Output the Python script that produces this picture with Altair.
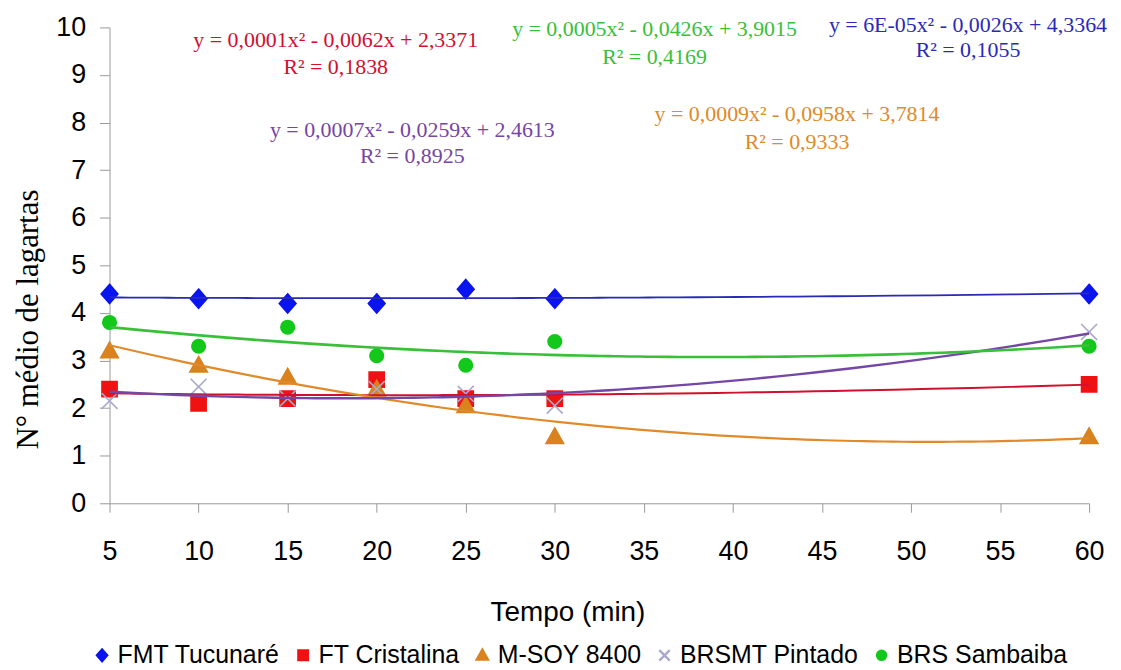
import altair as alt
import pandas as pd

# ---- data ----
tempo = [5, 10, 15, 20, 25, 30, 60]
series_names = ["FMT Tucunaré", "FT Cristalina", "M-SOY 8400", "BRSMT Pintado", "BRS Sambaiba"]
fmt_tucunare = [4.4, 4.3, 4.2, 4.2, 4.5, 4.3, 4.4]
ft_cristalina = [2.4, 2.1, 2.2, 2.6, 2.2, 2.2, 2.5]
msoy_8400 = [3.2, 2.9, 2.65, 2.4, 2.05, 1.4, 1.4]
brsmt_pintado = [2.15, 2.45, 2.2, 2.4, 2.3, 2.05, 3.6]
brs_sambaiba = [3.8, 3.3, 3.7, 3.1, 2.9, 3.4, 3.3]

equations = [
    "y = 0,0001x² - 0,0062x + 2,3371",
    "y = 0,0005x² - 0,0426x + 3,9015",
    "y = 6E-05x² - 0,0026x + 4,3364",
    "y = 0,0007x² - 0,0259x + 2,4613",
    "y = 0,0009x² - 0,0958x + 3,7814",
]
r2_labels = ["R² = 0,1838", "R² = 0,4169", "R² = 0,1055", "R² = 0,8925", "R² = 0,9333"]
eq_series = ["FT Cristalina", "BRS Sambaiba", "FMT Tucunaré", "BRSMT Pintado", "M-SOY 8400"]

# ---- table ----
rows = []
for name, vals in zip(series_names, [fmt_tucunare, ft_cristalina, msoy_8400, brsmt_pintado, brs_sambaiba]):
    for t, v in zip(tempo, vals):
        rows.append({"tempo": t, "valor": v, "serie": name})
df = pd.DataFrame(rows)

# annotation anchor positions (data units)
eq_x = [17.7, 35.6, 53.2, 22.0, 43.6]
eq_y1 = [9.73, 9.96, 10.06, 7.85, 8.17]
eq_y2 = [9.17, 9.375, 9.52, 7.29, 7.60]
ann_rows = []
for s, e, r, xx, y1, y2 in zip(eq_series, equations, r2_labels, eq_x, eq_y1, eq_y2):
    ann_rows.append({"serie": s, "txt": e, "tempo": xx, "valor": y1})
    ann_rows.append({"serie": s, "txt": r, "tempo": xx, "valor": y2})
ann = pd.DataFrame(ann_rows)

# ---- styles ----
point_fill = ["#0A14F0", "#F01212", "#D9821E", "transparent", "#12C81A"]
point_stroke = ["#0A14F0", "#F01212", "#D9821E", "#A9A9CF", "#12C81A"]
line_colors = ["#2A2AB8", "#D0102E", "#E08A2A", "#7446A6", "#38C038"]
line_widths = [1.8, 2.6, 1.8, 1.8, 1.8]
shape_paths = [
    "M0,-1.2L1.05,0L0,1.2L-1.05,0Z",
    "M-0.95,-0.95H0.95V0.95H-0.95Z",
    "M0,-1.1L1.1,0.85H-1.1Z",
    "M-1,-1L1,1M1,-1L-1,1",
    "M0.85,0A0.85,0.85 0 1,1 -0.85,0A0.85,0.85 0 1,1 0.85,0Z",
]

SANS = "Liberation Sans"
SERIF = "Liberation Serif"

x_scale = alt.Scale(domain=[5, 60], nice=False, zero=False)
y_scale = alt.Scale(domain=[0, 10], nice=False)

x_enc = alt.X(
    "tempo:Q", scale=x_scale,
    axis=alt.Axis(
        values=list(range(5, 61, 5)), title="Tempo (min)", grid=False,
        domainColor="#999999", tickColor="#999999", tickSize=9,
        labelFont=SANS, labelFontSize=27, labelColor="#000000",
        labelBaseline="alphabetic", labelPadding=47, labelFlush=False,
        titleFont=SANS, titleFontSize=28, titleFontWeight="normal", titleColor="#000000",
        titleBaseline="alphabetic", titleY=118, titleX=460,
    ),
)
y_enc = alt.Y(
    "valor:Q", scale=y_scale,
    axis=alt.Axis(
        values=list(range(0, 11)), title="N° médio de lagartas", grid=False,
        domainColor="#999999", tickColor="#999999", tickSize=10,
        labelFont=SANS, labelFontSize=27, labelColor="#000000", labelPadding=14,
        titleFont=SERIF, titleFontSize=31, titleFontWeight="normal", titleColor="#000000",
        titleAngle=270, titleAlign="center", titleBaseline="alphabetic",
        titleX=-72, titleY=293,
    ),
)

line_scale = alt.Scale(domain=series_names, range=line_colors)

trend = alt.Chart(df).transform_regression(
    "tempo", "valor", groupby=["serie"], method="poly", order=2, extent=[5, 60]
).mark_line().encode(
    x=x_enc, y=y_enc,
    color=alt.Color("serie:N", scale=line_scale, legend=None),
    strokeWidth=alt.StrokeWidth("serie:N", scale=alt.Scale(domain=series_names, range=line_widths), legend=None),
)

legend_cfg = alt.Legend(
    title=None, orient="none", legendX=-20, legendY=618, direction="horizontal", columns=5,
    labelFont=SANS, labelFontSize=25, labelColor="#000000", labelLimit=400,
    symbolSize=110, symbolStrokeWidth=1.5, labelOffset=3, columnPadding=10,
)

points = alt.Chart(df).mark_point(size=256, filled=False, strokeWidth=1.6, opacity=1).encode(
    x=x_enc, y=y_enc,
    fill=alt.Fill("serie:N", scale=alt.Scale(domain=series_names, range=point_fill), legend=legend_cfg),
    stroke=alt.Stroke("serie:N", scale=alt.Scale(domain=series_names, range=point_stroke), legend=legend_cfg),
    shape=alt.Shape("serie:N", scale=alt.Scale(domain=series_names, range=shape_paths), legend=legend_cfg),
)

labels = alt.Chart(ann).mark_text(font=SERIF, fontSize=22, align="center", baseline="middle").encode(
    x=x_enc, y=y_enc,
    text="txt:N",
    color=alt.Color("serie:N", scale=line_scale, legend=None),
)

chart = alt.layer(points, trend, labels).properties(
    width=984, height=478,
    padding={"left": 5, "top": 4, "right": 5, "bottom": 5},
).configure_view(stroke=None).configure_axisY(
    titleFont=SERIF, titleFontWeight="normal"
).configure_axisLeft(
    titleFont=SERIF, titleFontWeight="normal"
)

chart.save("out.html", embed_options={"renderer": "svg", "actions": False})
